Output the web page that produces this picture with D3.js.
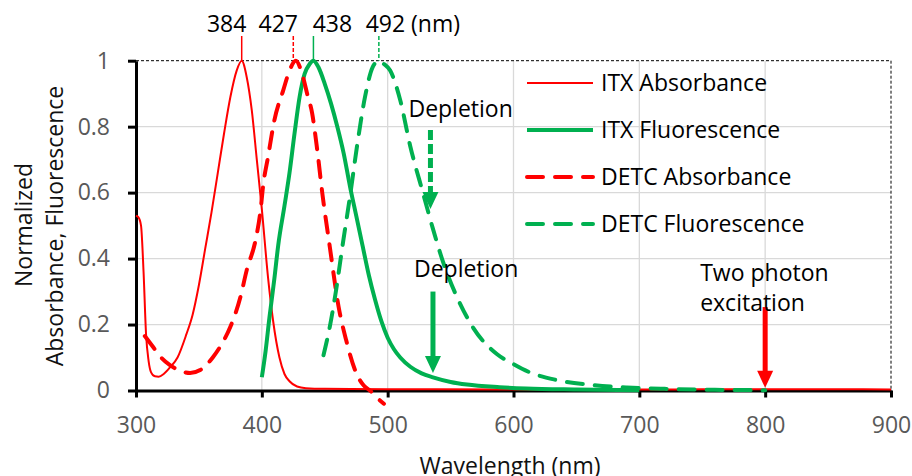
<!DOCTYPE html>
<html lang="en">
<head>
<meta charset="UTF-8">
<title>ITX / DETC spectra</title>
<script src="https://cdn.jsdelivr.net/npm/d3@7"></script>
<style>
  body { margin: 0; background: #fff; }
  svg text { font-family: "Open Sans", sans-serif; }
</style>
</head>
<body>
<div id="chart"></div>
<script>
// spectra: wavelength (nm) and normalized value
const itxAbsWl  = [300, 302, 304, 306, 308, 310, 312, 315, 318, 322, 327, 333, 340, 345, 350, 355, 360, 365, 370, 375, 380, 384, 388, 392, 396, 400, 405, 409, 414, 418, 422, 428, 435, 450, 500, 600, 700, 800, 850, 900];
const itxAbsVal = [0.53, 0.525, 0.5, 0.36, 0.17, 0.09, 0.055, 0.043, 0.042, 0.05, 0.07, 0.1, 0.17, 0.23, 0.32, 0.43, 0.54, 0.66, 0.78, 0.89, 0.97, 1.0, 0.95, 0.85, 0.7, 0.55, 0.34, 0.21, 0.1, 0.05, 0.028, 0.012, 0.007, 0.005, 0.004, 0.003, 0.003, 0.004, 0.004, 0.003];

const itxFluWl  = [400, 403, 406, 410, 413, 418, 422, 426, 430, 434, 438, 441, 445, 450, 455, 460, 465, 470, 475, 480, 485, 490, 495, 500, 505, 510, 518, 527, 536, 550, 563, 589, 610, 650, 700];
const itxFluVal = [0.04, 0.12, 0.22, 0.34, 0.44, 0.56, 0.66, 0.78, 0.89, 0.96, 0.99, 1.0, 0.98, 0.93, 0.87, 0.8, 0.72, 0.62, 0.53, 0.44, 0.35, 0.275, 0.21, 0.16, 0.125, 0.1, 0.072, 0.052, 0.04, 0.026, 0.018, 0.01, 0.006, 0.003, 0.001];

const detcAbsWl  = [307, 313, 320, 327, 335, 343, 351, 356, 361, 368, 375, 383, 388, 395, 399, 401, 405, 410, 417, 422, 427, 432, 436, 440, 444, 448, 454, 461, 467, 475, 481, 486, 491, 497];
const detcAbsVal = [0.165, 0.135, 0.1, 0.077, 0.06, 0.053, 0.062, 0.078, 0.1, 0.14, 0.193, 0.284, 0.365, 0.456, 0.547, 0.62, 0.71, 0.82, 0.91, 0.97, 1.0, 0.96, 0.9, 0.84, 0.73, 0.6, 0.436, 0.254, 0.153, 0.053, 0.015, 0.0, -0.02, -0.04];

const detcFluWl  = [449, 454, 459, 464, 470, 476, 482, 488, 493, 497, 502, 510, 518, 528, 536, 544, 555, 568, 587, 600, 613, 634, 661, 690, 720, 760, 800];
const detcFluVal = [0.107, 0.193, 0.304, 0.436, 0.587, 0.75, 0.89, 0.98, 1.0, 0.99, 0.97, 0.88, 0.74, 0.6, 0.49, 0.39, 0.284, 0.19, 0.11, 0.08, 0.055, 0.032, 0.017, 0.009, 0.005, 0.002, 0.001];

const seriesNames = ["ITX Absorbance", "ITX Fluorescence", "DETC Absorbance", "DETC Fluorescence"];
const xTicks = [300, 400, 500, 600, 700, 800, 900];
const yTicks = [0, 0.2, 0.4, 0.6, 0.8, 1];

// peak markers on top of the frame
const peakLabels = ["384", "427", "438", "492 (nm)"];
const peakWl = [384, 425, 441, 493];

// arrows: wavelength, from value, to value
const arrowWl = [534, 536, 800];
const arrowFrom = [0.79, 0.30, 0.253];
const arrowTo = [0.55, 0.053, 0.008];

const red = "#ff0000", green = "#00b050";
const fs = 23;

const svg = d3.select("#chart").append("svg").attr("width", 912).attr("height", 476);
const x = d3.scaleLinear().domain([300, 900]).range([136, 891]);
const y = d3.scaleLinear().domain([0, 1]).range([390.5, 60.7]);

// grid
svg.append("g").selectAll("line").data(xTicks.slice(1, -1)).join("line")
  .attr("x1", d => x(d)).attr("x2", d => x(d)).attr("y1", y(0)).attr("y2", y(1))
  .attr("stroke", "#d9d9d9").attr("stroke-width", 1.3);
svg.append("g").selectAll("line").data(yTicks.slice(1, -1)).join("line")
  .attr("x1", x(300)).attr("x2", x(900)).attr("y1", d => y(d)).attr("y2", d => y(d))
  .attr("stroke", "#d9d9d9").attr("stroke-width", 1.3);

// dashed frame top / right
svg.append("path")
  .attr("d", `M${x(300)},${y(1)}H${x(900)}V${y(0)}`)
  .attr("fill", "none").attr("stroke", "#000").attr("stroke-width", 1).attr("stroke-dasharray", "3 2");

// axes
const xAxis = svg.append("g").attr("transform", `translate(0,${y(0)})`)
  .call(d3.axisBottom(x).tickValues(xTicks).tickSizeInner(7).tickSizeOuter(0).tickPadding(19).tickFormat(d3.format("d")));
const yAxis = svg.append("g").attr("transform", `translate(${x(300)},0)`)
  .call(d3.axisLeft(y).tickValues(yTicks).tickSizeInner(8).tickSizeOuter(0).tickPadding(18).tickFormat(d => d));
[xAxis, yAxis].forEach(a => {
  a.select(".domain").attr("stroke", "#000").attr("stroke-width", 3);
  a.selectAll(".tick line").attr("stroke", "#000").attr("stroke-width", 3);
  a.selectAll(".tick text").attr("fill", "#595959").attr("font-size", fs)
    .style("font-family", "'Open Sans', sans-serif");
});

svg.append("text").attr("x", 510).attr("y", 474).attr("text-anchor", "middle")
  .attr("font-size", fs).attr("fill", "#111").text("Wavelength (nm)");
const yTitle = svg.append("text").attr("transform", "rotate(-90)").attr("text-anchor", "middle")
  .attr("font-size", fs).attr("fill", "#111");
yTitle.append("tspan").attr("x", -225).attr("y", 32).text("Normalized");
yTitle.append("tspan").attr("x", -226).attr("y", 63).text("Absorbance, Fluorescence");

// curves
const line = d3.line().x(d => x(d[0])).y(d => y(d[1])).curve(d3.curveMonotoneX);
const series = [
  { wl: itxAbsWl, val: itxAbsVal, color: red, width: 2, dash: null },
  { wl: itxFluWl, val: itxFluVal, color: green, width: 4, dash: null },
  { wl: detcAbsWl, val: detcAbsVal, color: red, width: 4, dash: "16 12" },
  { wl: detcFluWl, val: detcFluVal, color: green, width: 4, dash: "16 12" }
];
series.forEach(s => {
  svg.append("path")
    .datum(d3.zip(s.wl, s.val))
    .attr("d", line)
    .attr("fill", "none")
    .attr("stroke", s.color)
    .attr("stroke-width", s.width)
    .attr("stroke-dasharray", s.dash)
    .attr("stroke-linecap", s.dash ? "round" : "butt");
});

// peak markers
const peakColor = [red, red, green, green];
const peakDash = [null, "4 2", null, "4 2"];
const peakDx = [-15, -15, 19, 34];
peakWl.forEach((p, i) => {
  svg.append("line").attr("x1", x(p)).attr("x2", x(p)).attr("y1", 36).attr("y2", y(1))
    .attr("stroke", peakColor[i]).attr("stroke-width", 1.5)
    .attr("stroke-dasharray", peakDash[i]);
  svg.append("text").attr("x", x(p) + peakDx[i]).attr("y", 32).attr("text-anchor", "middle")
    .attr("font-size", fs).attr("fill", "#000").text(peakLabels[i]);
});

// arrows
const arrowColor = [green, green, red];
const arrowDash = ["10 4", null, null];
arrowWl.forEach((w, i) => {
  const ax = x(w), y0 = y(arrowFrom[i]), y1 = y(arrowTo[i]);
  svg.append("line").attr("x1", ax).attr("x2", ax).attr("y1", y0).attr("y2", y1 - 14)
    .attr("stroke", arrowColor[i]).attr("stroke-width", 5).attr("stroke-dasharray", arrowDash[i]);
  svg.append("path").attr("d", `M${ax - 8},${y1 - 17}L${ax + 8},${y1 - 17}L${ax},${y1}Z`)
    .attr("fill", arrowColor[i]);
});

const note = (tx, ty, t) => svg.append("text").attr("x", tx).attr("y", ty)
  .attr("font-size", fs).attr("fill", "#000").text(t);
note(x(arrowWl[0]) - 22, 117, "Depletion");
note(x(arrowWl[1]) - 19, 277, "Depletion");
note(x(arrowWl[2]) - 65, 281, "Two photon");
note(x(arrowWl[2]) - 65, 311, "excitation");

// legend
const legend = svg.append("g");
seriesNames.forEach((n, i) => {
  const ly = 83 + i * 47, s = series[i];
  legend.append("line").attr("x1", 527).attr("x2", 593).attr("y1", ly).attr("y2", ly)
    .attr("stroke", s.color).attr("stroke-width", s.width)
    .attr("stroke-dasharray", s.dash).attr("stroke-linecap", s.dash ? "round" : "butt");
  legend.append("text").attr("x", 601).attr("y", ly).attr("dy", "0.35em")
    .attr("font-size", fs).attr("fill", "#000").text(n);
});
</script>
</body>
</html>
